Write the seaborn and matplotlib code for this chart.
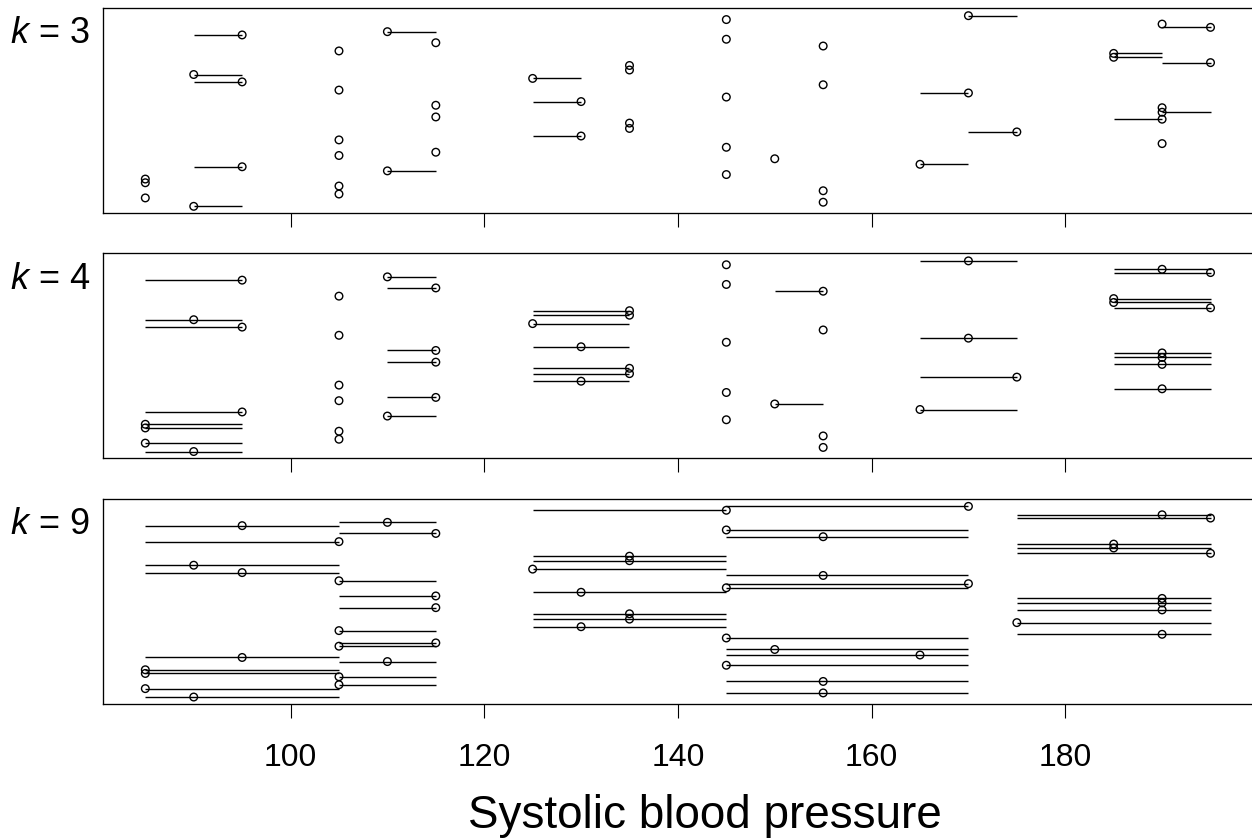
import matplotlib
matplotlib.use("Agg")
import pandas as pd
import matplotlib.pyplot as plt
import seaborn as sns

# systolic blood pressure of the 50 subjects and their vertical jitter (0-100)
sbp = [85, 85, 85, 90, 90, 95, 95, 95,
       105, 105, 105, 105, 105, 105, 110, 110,
       115, 115, 115, 115, 125, 130, 130,
       135, 135, 135, 135, 145, 145, 145, 145, 145,
       150, 155, 155, 155, 155, 165, 170, 170, 175,
       185, 185, 190, 190, 190, 190, 190, 195, 195]
jitter = [16.7, 14.9, 7.5, 67.7, 3.4, 87.0, 64.1, 22.7,
          79.2, 60.1, 35.8, 28.2, 13.3, 9.4, 88.6, 20.7,
          83.2, 52.7, 47.0, 29.8, 65.8, 54.5, 37.7,
          72.1, 69.9, 44.0, 41.4, 94.5, 84.9, 56.7, 32.2, 18.9,
          26.6, 81.6, 62.7, 11.0, 5.4, 23.9, 96.4, 58.7, 39.7,
          78.0, 76.1, 92.3, 51.5, 49.3, 45.9, 34.0, 90.7, 73.5]

# neighbourhood limits of every subject for each k
lo3 = [85, 85, 85, 90, 90, 90, 90, 90,
       105, 105, 105, 105, 105, 105, 110, 110,
       115, 115, 115, 115, 125, 125, 125,
       135, 135, 135, 135, 145, 145, 145, 145, 145,
       150, 155, 155, 155, 155, 165, 170, 165, 170,
       185, 185, 190, 190, 190, 185, 190, 190, 190]
hi3 = [85, 85, 85, 95, 95, 95, 95, 95,
       105, 105, 105, 105, 105, 105, 115, 115,
       115, 115, 115, 115, 130, 130, 130,
       135, 135, 135, 135, 145, 145, 145, 145, 145,
       150, 155, 155, 155, 155, 170, 175, 170, 175,
       190, 190, 190, 190, 195, 190, 190, 195, 195]
lo4 = [85] * 8 + [105] * 6 + [110] * 6 + [125] * 7 + [145] * 5 + \
      [150, 150, 155, 155, 155] + [165] * 4 + [185] * 9
hi4 = [95] * 8 + [105] * 6 + [115] * 6 + [135] * 7 + [145] * 5 + \
      [155, 155, 155, 155, 155] + [175] * 4 + [195] * 9
lo9 = [85] * 9 + [105] * 11 + [125] * 8 + [145] * 12 + [175] * 10
hi9 = [105] * 9 + [115] * 11 + [145] * 8 + [170] * 12 + [195] * 10

ks = [3, 4, 9]
limits = {3: (lo3, hi3), 4: (lo4, hi4), 9: (lo9, hi9)}
xticks = [100, 120, 140, 160, 180]

df = pd.DataFrame({"sbp": sbp, "y": jitter})

sns.set_style("ticks")
plt.rcParams["font.family"] = ["Liberation Sans", "DejaVu Sans"]
plt.rcParams["mathtext.fontset"] = "custom"
plt.rcParams["mathtext.it"] = "Liberation Sans:italic"
plt.rcParams["mathtext.rm"] = "Liberation Sans"
plt.rcParams["text.color"] = "black"
plt.rcParams["axes.labelcolor"] = "black"
plt.rcParams["xtick.color"] = "black"

W, H = 1252, 839
fig = plt.figure(figsize=(W / 100, H / 100), dpi=100)
left = 102.7 / W
width = (1257 - 102.7) / W
ph = 205 / H
bottoms = [213.3, 458.5, 704]

for i, k in enumerate(ks):
    ax = fig.add_axes([left, 1 - bottoms[i] / H, width, ph])
    lo, hi = limits[k]
    ax.hlines(df["y"], lo, hi, color="black", linewidth=1.0)
    sns.scatterplot(data=df, x="sbp", y="y", ax=ax, s=30, marker="o",
                    facecolor="none", edgecolor="black", linewidth=1.0,
                    zorder=3)
    ax.set_xlim(80.6, 199.8)
    ax.set_ylim(0, 100)
    ax.set_xticks(xticks)
    ax.set_yticks([])
    ax.set_xlabel("")
    ax.set_ylabel("")
    ax.tick_params(axis="x", direction="out", length=10.3, width=0.8,
                   color="black", labelcolor="black", pad=18, labelsize=23,
                   labelbottom=(i == 2))
    for sp in ax.spines.values():
        sp.set_visible(True)
        sp.set_color("black")
        sp.set_linewidth(0.95)
    ax.text(-0.011, 0.829, r"$k$ = %d" % k, transform=ax.transAxes,
            ha="right", va="baseline", fontsize=26, color="black")
    if i == 2:
        ax.set_xlabel("Systolic blood pressure", fontsize=33, color="black")
        ax.xaxis.label.set_va("baseline")
        ax.xaxis.set_label_coords(0.522, -0.605)

fig.savefig("out.png", dpi=100)
